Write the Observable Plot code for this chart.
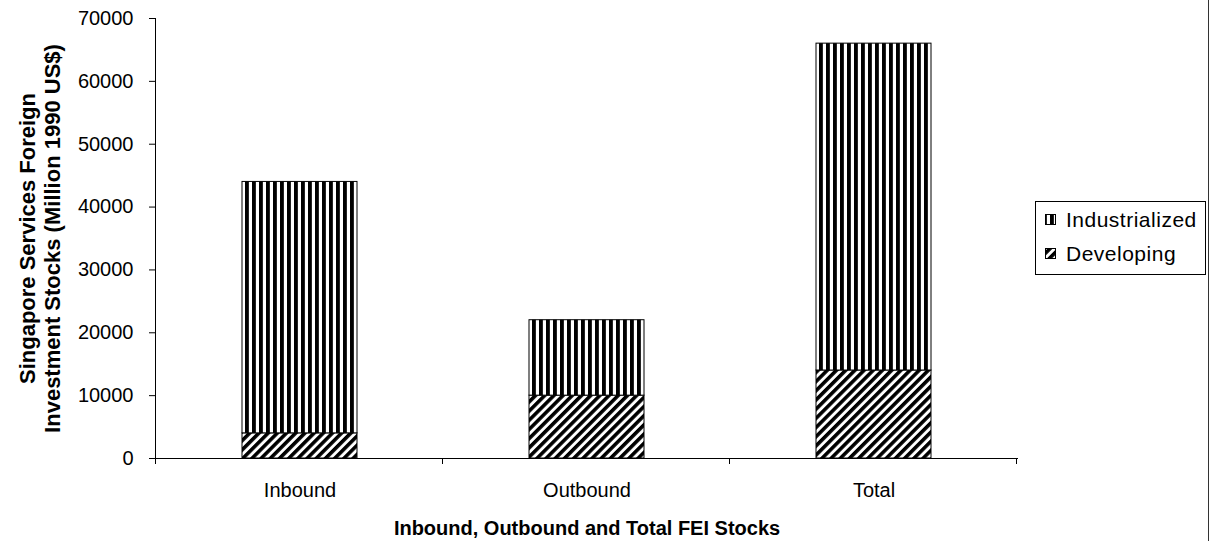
<!DOCTYPE html>
<html>
<head>
<meta charset="utf-8">
<script src="https://cdn.jsdelivr.net/npm/d3@7"></script>
<script src="https://cdn.jsdelivr.net/npm/@observablehq/plot@0.6"></script>
<style>
  html, body { margin: 0; padding: 0; background: #fff; }
  #chart svg { display: block; }
</style>
</head>
<body>
<div id="chart"></div>
<script>
// Singapore services foreign investment stocks, by direction and partner group
const categories = ["Inbound", "Outbound", "Total"];
const seriesNames = ["Developing", "Industrialized"];   // stacked bottom → top
const developing = [4000, 10000, 14000];
const industrialized = [40000, 12000, 52000];
const yTicks = [0, 10000, 20000, 30000, 40000, 50000, 60000, 70000];
const yTitle = "Singapore Services Foreign\nInvestment Stocks (Million 1990 US$)";
const xTitle = "Inbound, Outbound and Total FEI Stocks";

const rows = categories.flatMap((c, i) => [
  {category: c, series: seriesNames[0], value: developing[i]},
  {category: c, series: seriesNames[1], value: industrialized[i]}
]);

const patternIds = {Developing: "hatch-developing", Industrialized: "hatch-industrialized"};

const font = "'Liberation Sans', Arial, sans-serif";

const chart = Plot.plot({
  width: 1210,
  height: 541,
  marginTop: 18,
  marginBottom: 83,
  marginLeft: 155,
  marginRight: 192,
  style: {fontFamily: font, fontSize: "20px", color: "#000", background: "#fff", overflow: "visible"},
  x: {domain: categories, paddingInner: 0.6, paddingOuter: 0.3, label: null, tickSize: 0, tickPadding: 24},
  y: {domain: [0, 70000], ticks: yTicks, tickFormat: d3.format("d"), label: null, tickSize: 6, tickPadding: 16},
  color: {domain: seriesNames, range: seriesNames.map(s => `url(#${patternIds[s]})`)},
  marks: [
    Plot.barY(rows, {x: "category", y: "value", fill: "series", stroke: "#000", strokeWidth: 1, order: seriesNames}),
    Plot.ruleY([0], {stroke: "#000", strokeWidth: 1}),
    Plot.text([yTitle], {text: d => d, frameAnchor: "left", rotate: -90, dx: -116, lineHeight: 1.14,
      fontWeight: "bold", fontSize: 22, textAnchor: "middle", lineAnchor: "middle"}),
    Plot.text([xTitle], {text: d => d, frameAnchor: "bottom", dy: 70, fontWeight: "bold", fontSize: 20,
      textAnchor: "middle", lineAnchor: "middle"})
  ]
});

document.getElementById("chart").appendChild(chart);

// Fill patterns: vertical stripes for industrialized, diagonal hatch for developing
const svg = d3.select(chart);
const defs = svg.insert("defs", ":first-child");
const stripes = (id, size, transform) => {
  const p = defs.append("pattern").attr("id", id).attr("patternUnits", "userSpaceOnUse")
    .attr("width", size).attr("height", size);
  if (transform) p.attr("patternTransform", transform);
  p.append("rect").attr("width", size).attr("height", size).attr("fill", "#fff");
  p.append("rect").attr("width", size * 0.55).attr("height", size).attr("fill", "#000");
};
stripes(patternIds.Industrialized, 7, null);
stripes(patternIds.Developing, 6.5, "rotate(45)");

// Axis lines and category-boundary ticks from the plot's own scales
const xs = chart.scale("x"), ys = chart.scale("y");
const y0 = ys.apply(0), yTop = ys.apply(70000);
const left = xs.apply(categories[0]) - xs.step * 0.3;
const boundaries = d3.range(categories.length + 1).map(i => left + i * xs.step);
const axes = svg.append("g").attr("stroke", "#000").attr("stroke-width", 1).attr("shape-rendering", "crispEdges");
axes.append("line").attr("x1", left).attr("x2", left).attr("y1", yTop).attr("y2", y0 + 6);
boundaries.slice(1).forEach(bx => {
  axes.append("line").attr("x1", bx).attr("x2", bx).attr("y1", y0).attr("y2", y0 + 6);
});

// Legend box on the right
const legend = svg.append("g").attr("font-family", font).attr("font-size", 21)
  .attr("letter-spacing", "0.5px").attr("text-anchor", "start");
legend.append("rect").attr("x", 1035.5).attr("y", 201.5).attr("width", 170).attr("height", 73)
  .attr("fill", "#fff").attr("stroke", "#000");
["Industrialized", "Developing"].forEach((s, i) => {
  const cy = 220 + i * 34;
  legend.append("rect").attr("x", 1045.5).attr("y", cy - 5.5).attr("width", 10).attr("height", 10)
    .attr("fill", `url(#${patternIds[s]})`).attr("stroke", "#000");
  legend.append("text").attr("x", 1066).attr("y", cy).attr("dy", "0.35em").attr("fill", "#000").text(s);
});

// Outer chart-area edge on the right
svg.append("line").attr("x1", 1208.5).attr("x2", 1208.5).attr("y1", 0).attr("y2", 541)
  .attr("stroke", "#333").attr("stroke-width", 1);
</script>
</body>
</html>
